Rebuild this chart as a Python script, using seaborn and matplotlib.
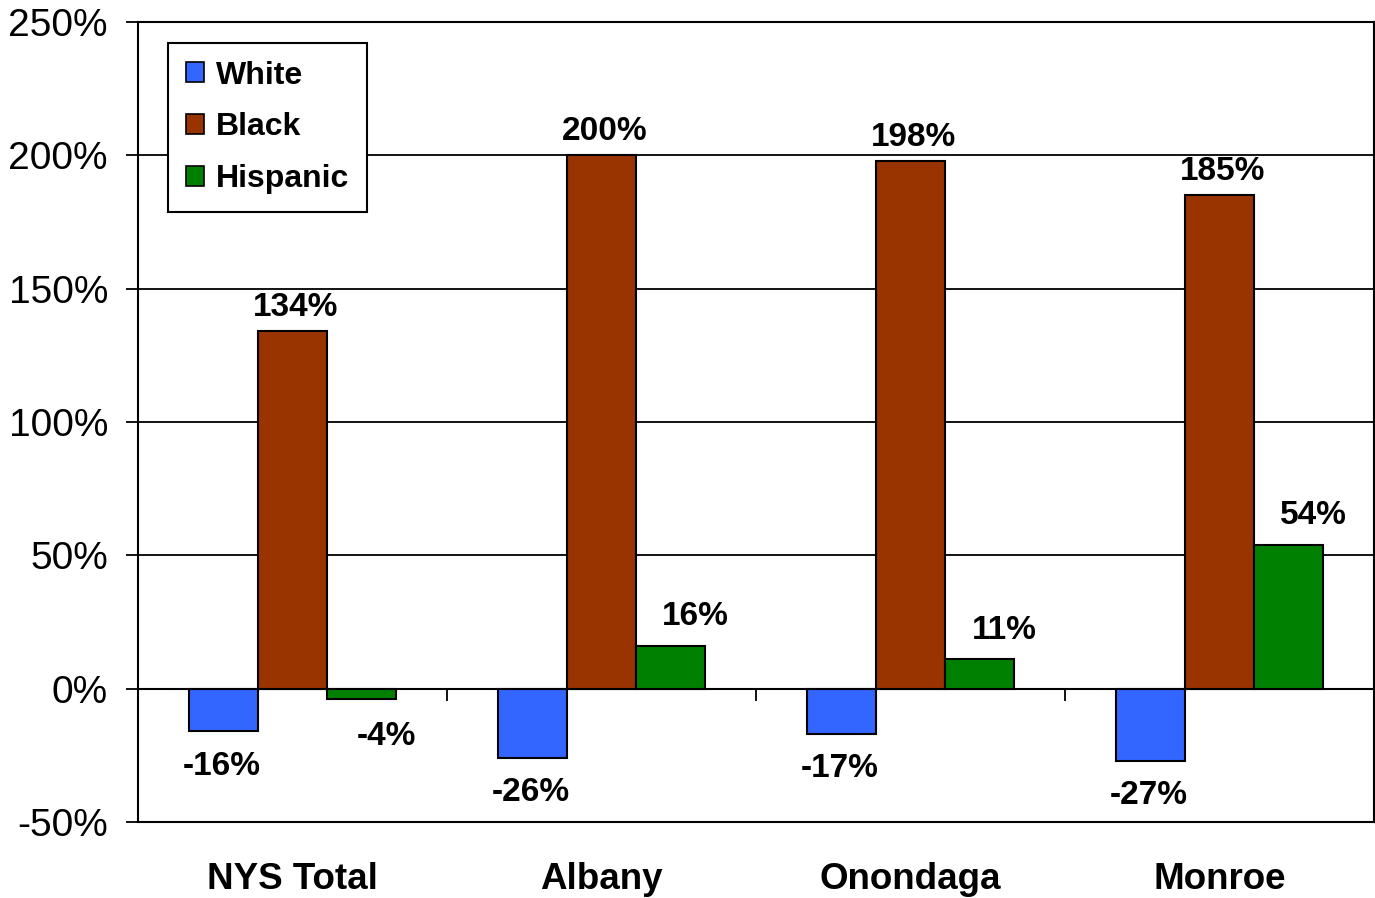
import matplotlib
matplotlib.use("Agg")
import matplotlib.pyplot as plt
import seaborn as sns
import pandas as pd
import numpy as np

categories = ["NYS Total", "Albany", "Onondaga", "Monroe"]
series = ["White", "Black", "Hispanic"]
white = [-16, -26, -17, -27]
black = [134, 200, 198, 185]
hispanic = [-4, 16, 11, 54]
colors = ["#3366FF", "#993300", "#008000"]
yticks = [-50, 0, 50, 100, 150, 200, 250]

rows = []
for s, vals in zip(series, [white, black, hispanic]):
    for c, v in zip(categories, vals):
        rows.append({"Region": c, "Group": s, "Change": v})
df = pd.DataFrame(rows)

sns.set_theme(style="white")
plt.rcParams["font.family"] = ["Liberation Sans", "DejaVu Sans"]
plt.rcParams["text.color"] = "black"
plt.rcParams["xtick.color"] = "black"
plt.rcParams["ytick.color"] = "black"
plt.rcParams["axes.labelcolor"] = "black"

fig = plt.figure(figsize=(13.75, 8.98), dpi=100)
ax = fig.add_axes([138/1375, (898-822)/898, (1374-138)/1375, (822-22)/898])

sns.barplot(data=df, x="Region", y="Change", hue="Group", order=categories,
            hue_order=series, palette=colors, width=0.67, edgecolor="black",
            linewidth=1.5, saturation=1, ax=ax, errorbar=None)

ax.set_ylim(-50, 250)
ax.set_xlim(-0.5, 3.5)
ax.set_yticks(yticks)
ax.set_yticklabels([f"{t}%" for t in yticks], fontsize=28)
ax.yaxis.grid(True, color="black", linewidth=1.3)
ax.set_axisbelow(True)
for sp in ax.spines.values():
    sp.set_color("black")
    sp.set_linewidth(1.5)
ax.tick_params(axis="y", which="both", left=True, length=8.6, width=1.3, color="black",
               pad=13, labelcolor="black")
ax.tick_params(axis="x", bottom=False, pad=23, labelcolor="black")
ax.set_xticks(range(len(categories)))
ax.set_xticklabels(categories, fontsize=26.5, fontweight="bold")
ax.set_xlabel("")
ax.set_ylabel("")

# zero axis with category-boundary ticks
sec = ax.secondary_xaxis(50/300)
sec.set_xticks([0.5, 1.5, 2.5])
sec.set_xticklabels([])
sec.tick_params(axis="x", direction="out", length=8.6, width=1.3, color="black")
sec.spines["bottom"].set_color("black")
sec.spines["bottom"].set_linewidth(1.5)

# value labels
xoff = {"White": -1, "Black": 2, "Hispanic": 18}
up = {"White": 16, "Black": 17, "Hispanic": 21}
down = {"White": 25, "Black": 25, "Hispanic": 27}
for container, s in zip(ax.containers, series):
    for bar in container:
        v = bar.get_height()
        x = bar.get_x() + bar.get_width()/2
        dy = up[s] if v >= 0 else -down[s]
        ax.annotate(f"{v:.0f}%", (x, v), xytext=(xoff[s], dy), textcoords="offset points",
                    ha="center", va="center", fontsize=24, fontweight="bold", color="black")

leg = ax.legend(loc="upper left", bbox_to_anchor=(30/1236, 1 - 21/800), fontsize=23,
                frameon=True, fancybox=False, framealpha=1, edgecolor="black",
                handlelength=0.58, handleheight=0.58, handletextpad=0.38,
                labelspacing=0.68, borderpad=0.55, borderaxespad=0)
leg.get_frame().set_linewidth(1.5)
for t in leg.get_texts():
    t.set_fontweight("bold")
    t.set_color("black")
for h in leg.legend_handles:
    h.set_edgecolor("black")
    h.set_linewidth(1.2)

fig.savefig("out.png", dpi=100)
